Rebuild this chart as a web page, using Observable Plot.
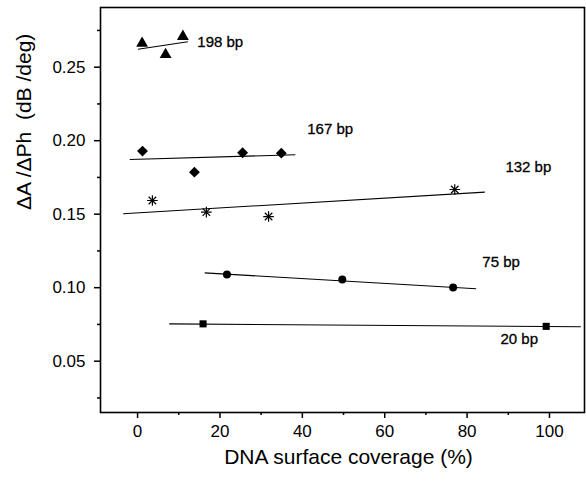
<!DOCTYPE html>
<html>
<head>
<meta charset="utf-8">
<script src="https://cdn.jsdelivr.net/npm/d3@7"></script>
<script src="https://cdn.jsdelivr.net/npm/@observablehq/plot@0.6"></script>
<style>
  html, body { margin: 0; padding: 0; background: #fff; }
  #chart svg { display: block; }
</style>
</head>
<body>
<div id="chart"></div>
<script>
// ---- data ----
const series = ["198 bp", "167 bp", "132 bp", "75 bp", "20 bp"];

// measured points per series (coverage %, ΔA/ΔPh)
const x198 = [1.1, 6.8, 11.0];
const y198 = [0.2663, 0.2586, 0.2709];
const x167 = [1.2, 13.8, 25.5, 34.9];
const y167 = [0.1929, 0.1786, 0.1918, 0.1915];
const x132 = [3.6, 16.7, 31.8, 77.0];
const y132 = [0.1593, 0.1514, 0.1484, 0.1668];
const x75 = [21.7, 49.7, 76.6];
const y75 = [0.1090, 0.1056, 0.1001];
const x20 = [15.9, 99.2];
const y20 = [0.0754, 0.0737];

// fitted lines: start/end per series (same order as `series`)
const fitX1 = [0.1, -1.9, -3.5, 16.3, 7.7];
const fitY1 = [0.2622, 0.1872, 0.1503, 0.1101, 0.0754];
const fitX2 = [12.2, 38.3, 84.3, 82.2, 107.6];
const fitY2 = [0.2673, 0.1904, 0.1650, 0.0993, 0.0734];

// series label anchors (data units)
const labelX = [14.5, 41.2, 89.3, 83.7, 88.1];
const labelY = [0.2668, 0.2076, 0.1820, 0.1173, 0.0648];

// axes
const xDomain = [-9, 108.5];
const yDomain = [0.0151, 0.2906];
const xMajor = [0, 20, 40, 60, 80, 100];
const xMinor = [10, 30, 50, 70, 90];
const yMajor = [0.05, 0.10, 0.15, 0.20, 0.25];
const yMinor = [0.025, 0.075, 0.125, 0.175, 0.225, 0.275];
const xTitle = "DNA surface coverage (%)";
const yTitle = "\u0394A /\u0394Ph  (dB /deg)";

// ---- build tables ----
const pts = (xs, ys, s) => xs.map((x, i) => ({x, y: ys[i], s}));
const p198 = pts(x198, y198, series[0]);
const p167 = pts(x167, y167, series[1]);
const p132 = pts(x132, y132, series[2]);
const p75 = pts(x75, y75, series[3]);
const p20 = pts(x20, y20, series[4]);
const fits = series.map((s, i) => ({s, x1: fitX1[i], y1: fitY1[i], x2: fitX2[i], y2: fitY2[i]}));
const labels = series.map((s, i) => ({s, x: labelX[i], y: labelY[i]}));

const font = "'Liberation Sans', Arial, sans-serif";

const chart = Plot.plot({
  width: 586,
  height: 483,
  marginLeft: 100,
  marginRight: 2,
  marginTop: 7,
  marginBottom: 71,
  style: {fontFamily: font, background: "#fff", color: "#000", overflow: "visible"},
  x: {domain: xDomain},
  y: {domain: yDomain},
  marks: [
    Plot.axisX({ticks: xMajor, tickSize: 6, tickPadding: 6, tickFormat: d => String(d), fontSize: 17, strokeWidth: 1.5, label: null}),
    Plot.axisX({ticks: xMinor, tickSize: 3, tickFormat: () => "", strokeWidth: 1.5, label: null}),
    Plot.axisY({ticks: yMajor, tickSize: 6, tickPadding: 9, tickFormat: d => d.toFixed(2), fontSize: 17, strokeWidth: 1.5, label: null}),
    Plot.axisY({ticks: yMinor, tickSize: 3, tickFormat: () => "", strokeWidth: 1.5, label: null}),
    Plot.frame({stroke: "#000", strokeWidth: 1.6}),
    Plot.link(fits, {x1: "x1", y1: "y1", x2: "x2", y2: "y2", stroke: "#000", strokeWidth: 1.1}),
    Plot.dot(p198, {x: "x", y: "y", symbol: "triangle", r: 4.4, fill: "#000", stroke: "none"}),
    Plot.dot(p167, {x: "x", y: "y", symbol: "diamond2", r: 4.9, fill: "#000", stroke: "none"}),
    Plot.dot(p132, {x: "x", y: "y", symbol: "plus", r: 3.5, stroke: "#000", strokeWidth: 1.2, fill: "none"}),
    Plot.dot(p132, {x: "x", y: "y", symbol: "times", r: 3.5, stroke: "#000", strokeWidth: 1.2, fill: "none"}),
    Plot.dot(p75, {x: "x", y: "y", symbol: "circle", r: 4, fill: "#000", stroke: "none"}),
    Plot.dot(p20, {x: "x", y: "y", symbol: "square", r: 4, fill: "#000", stroke: "none"}),
    Plot.text(labels, {x: "x", y: "y", text: "s", textAnchor: "start", fontSize: 15, fill: "#000", stroke: "#000", strokeWidth: 0.3}),
    Plot.text([xTitle], {frameAnchor: "bottom", dy: 51, dx: 6, fontSize: 21, fill: "#000"}),
    Plot.text([yTitle], {frameAnchor: "left", dx: -76, rotate: -90, fontSize: 21, fill: "#000"})
  ]
});

document.getElementById("chart").appendChild(chart);
</script>
</body>
</html>
